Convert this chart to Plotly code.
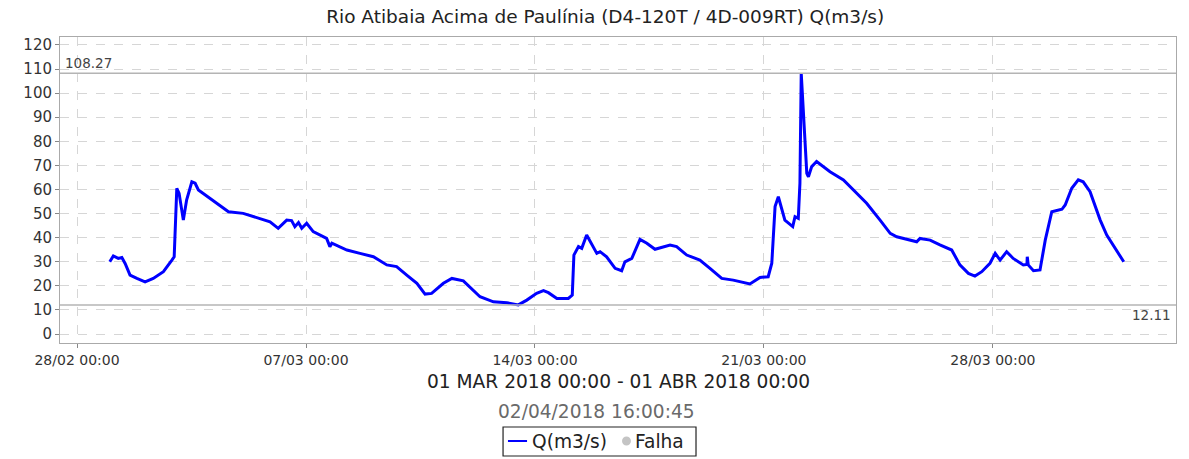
import pandas as pd
import plotly.graph_objects as go

start = pd.Timestamp("2018-03-01 00:00")
# time since start (days) and flow values Q (m3/s)
days = [0.00, 0.11, 0.26, 0.37, 0.47, 0.62, 0.83, 1.08, 1.33, 1.64, 1.90, 1.97,
        2.05, 2.12, 2.25, 2.35, 2.51, 2.61, 2.71, 3.07, 3.47, 3.63, 4.08, 4.59,
        4.90, 5.15, 5.41, 5.56, 5.66, 5.77, 5.87, 6.02, 6.22, 6.63, 6.73, 6.79,
        7.25, 7.65, 8.06, 8.47, 8.77, 9.08, 9.39, 9.64, 9.84, 10.20, 10.46, 10.81,
        11.01, 11.32, 11.73, 12.14, 12.49, 12.75, 13.05, 13.26, 13.41, 13.67, 14.02,
        14.14, 14.19, 14.33, 14.43, 14.58, 14.89, 14.99, 15.19, 15.45, 15.65, 15.75,
        15.96, 16.21, 16.42, 16.67, 17.13, 17.33, 17.64, 18.04, 18.35, 18.71, 19.06,
        19.57, 19.88, 20.13, 20.24, 20.34, 20.44, 20.54, 20.64, 20.88, 20.95, 21.05,
        21.10, 21.14, 21.23, 21.31, 21.36, 21.46, 21.61, 22.02, 22.43, 22.73, 23.14,
        23.55, 23.86, 24.06, 24.26, 24.67, 24.77, 25.08, 25.38, 25.74, 25.99, 26.25,
        26.45, 26.66, 26.91, 27.07, 27.22, 27.42, 27.62, 27.93, 28.04, 28.05, 28.08,
        28.24, 28.44, 28.60, 28.80, 29.11, 29.21, 29.41, 29.61, 29.76, 29.97, 30.28,
        30.48, 30.68, 31.00]
flow = [30.0, 32.4, 31.4, 31.8, 29.3, 24.5, 23.1, 21.7, 23.1, 25.9, 30.7, 32.1,
        60.5, 58.4, 47.3, 55.6, 63.2, 62.6, 59.8, 56.3, 52.2, 50.8, 50.1, 48.0,
        46.6, 43.9, 47.3, 47.1, 44.6, 46.3, 43.9, 46.0, 42.5, 39.7, 36.3, 37.7,
        34.9, 33.5, 32.1, 28.7, 28.0, 24.5, 21.1, 16.6, 16.9, 21.1, 23.1, 22.1,
        19.6, 15.5, 13.4, 13.0, 12.11, 14.1, 16.9, 18.0, 17.2, 14.8, 14.8,
        16.2, 32.8, 36.3, 35.6, 41.1, 33.5, 34.2, 32.1, 27.3, 26.3, 30.0,
        31.4, 39.3, 37.7, 35.2, 37.0, 36.3, 32.8, 30.7, 27.3, 23.1, 22.4,
        20.8, 23.5, 23.8, 29.4, 52.9, 57.0, 52.2, 47.3, 44.6, 48.7, 48.0,
        62.6, 108.27, 83.4, 66.7, 65.3, 69.5, 71.6, 67.4, 64.0, 59.8, 54.3,
        47.3, 41.8, 40.4, 39.7, 38.3, 39.7, 39.0, 37.0, 34.9, 28.7, 25.2,
        24.1, 25.9, 29.4, 33.5, 30.7, 34.2, 31.4, 28.7, 28.9, 32.1, 28.7,
        26.3, 26.6, 39.0, 50.8, 51.8, 53.6, 60.5, 64.0, 63.2, 59.1, 47.3,
        41.1, 37.0, 30.0]
max_val = 108.27
min_val = 12.11
title = "Rio Atibaia Acima de Paulínia (D4-120T / 4D-009RT) Q(m3/s)"
period = "01 MAR 2018 00:00 - 01 ABR 2018 00:00"
stamp = "02/04/2018 16:00:45"
legend_labels = ["Q(m3/s)", "Falha"]

times = [start + pd.Timedelta(days=d) for d in days]
FONT = "DejaVu Sans"
BLUE = "#0000ff"
GREY_DOT = "#c4c4c4"

fig = go.Figure()
fig.add_trace(go.Scatter(x=times, y=flow, mode="lines", name=legend_labels[0],
                         line=dict(color=BLUE, width=3), showlegend=False))

for v in (max_val, min_val):
    fig.add_shape(type="line", xref="paper", x0=0, x1=1, y0=v, y1=v,
                  line=dict(color="#b4b4b4", width=1.5))

fig.add_annotation(text=f"{max_val:.2f}", xref="paper", x=0.003, y=max_val,
                   xanchor="left", yanchor="bottom", showarrow=False,
                   font=dict(family=FONT, size=13.5, color="#444"))
fig.add_annotation(text=f"{min_val:.2f}", xref="paper", x=0.997, y=min_val,
                   xanchor="right", yanchor="top", showarrow=False,
                   font=dict(family=FONT, size=13.5, color="#444"))
fig.add_annotation(text=period, xref="paper", yref="paper", x=0.5, y=-0.127,
                   xanchor="center", yanchor="middle", showarrow=False,
                   font=dict(family=FONT, size=18.6, color="#222"))
fig.add_annotation(text=stamp, xref="paper", yref="paper", x=0.481, y=-0.225,
                   xanchor="center", yanchor="middle", showarrow=False,
                   font=dict(family=FONT, size=18.6, color="#6a6a6a"))

# legend box (drawn in paper coordinates below the plot)
fig.add_shape(type="rect", xref="paper", yref="paper", x0=0.397, x1=0.5699,
              y0=-0.3693, y1=-0.2745, line=dict(color="#222", width=1.2),
              fillcolor="white")
fig.add_shape(type="line", xref="paper", yref="paper", x0=0.4014, x1=0.4185,
              y0=-0.3203, y1=-0.3203, line=dict(color=BLUE, width=2))
fig.add_shape(type="circle", xref="paper", yref="paper", x0=0.5036, x1=0.5116,
              y0=-0.3350, y1=-0.3056, line=dict(color=GREY_DOT, width=0),
              fillcolor=GREY_DOT)
fig.add_annotation(text=legend_labels[0], xref="paper", yref="paper", x=0.4215,
                   y=-0.3203, xanchor="left", yanchor="middle", showarrow=False,
                   font=dict(family=FONT, size=18.6, color="#222"))
fig.add_annotation(text=legend_labels[1], xref="paper", yref="paper", x=0.5134,
                   y=-0.3203, xanchor="left", yanchor="middle", showarrow=False,
                   font=dict(family=FONT, size=18.6, color="#222"))

fig.update_layout(
    width=1189, height=459,
    margin=dict(l=60, r=13, t=37, b=116, autoexpand=False),
    paper_bgcolor="white", plot_bgcolor="white",
    font=dict(family=FONT, size=14, color="#333"),
    title=dict(text=title, x=0.509, xanchor="center", y=1 - 17 / 459,
               yanchor="middle", font=dict(family=FONT, size=18.5, color="#222")),
    showlegend=False,
)
fig.update_xaxes(
    range=["2018-02-27 11:30", "2018-04-02 14:20"],
    tick0="2018-02-28", dtick=7 * 86400000, tickformat="%d/%m %H:%M",
    showgrid=True, gridcolor="#d6d6d6", griddash="dash", gridwidth=1,
    showline=True, linecolor="#aaaaaa", mirror=True, automargin=False,
    ticks="outside", ticklen=4, tickcolor="#888",
    tickfont=dict(family=FONT, size=14, color="#333"), zeroline=False,
)
fig.update_yaxes(
    range=[-3.7, 123.3], tick0=0, dtick=10,
    showgrid=True, gridcolor="#d6d6d6", griddash="dash", gridwidth=1,
    showline=True, linecolor="#aaaaaa", mirror=True, automargin=False,
    ticks="outside", ticklen=4, tickcolor="#888",
    tickfont=dict(family=FONT, size=15, color="#333"), zeroline=False,
)
fig.write_html("out.html", config={"displayModeBar": False},
               post_script="document.body.style.margin='0';document.body.style.overflow='hidden';")
